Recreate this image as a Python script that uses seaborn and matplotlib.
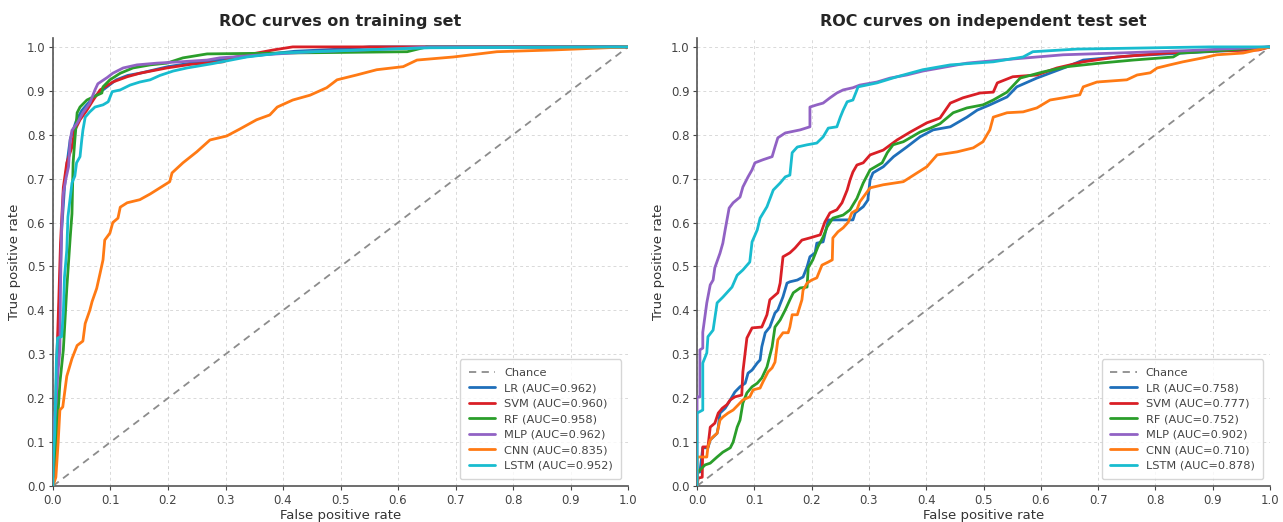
import numpy as np
import pandas as pd
import matplotlib
matplotlib.use("Agg")
import matplotlib.pyplot as plt
import seaborn as sns

# ---------------- data ----------------
models = ["LR", "SVM", "RF", "MLP", "CNN", "LSTM"]
colors = ["#1f6fba", "#d91f26", "#2a9e2a", "#9162c4", "#ff7a14", "#18bccf"]
train_auc = [0.962, 0.960, 0.958, 0.962, 0.835, 0.952]
test_auc = [0.758, 0.777, 0.752, 0.902, 0.710, 0.878]
ticks = [0.0, 0.1, 0.2, 0.3, 0.4, 0.5, 0.6, 0.7, 0.8, 0.9, 1.0]

# training set
tr_lr_fpr = [0, 0, 0.005, 0.008, 0.012, 0.015, 0.02, 0.025, 0.03, 0.04, 0.05, 0.06, 0.075, 0.09, 0.11, 0.13, 0.151, 0.2, 0.25, 0.3, 0.35, 0.42, 0.5, 0.55, 1.0]
tr_lr_tpr = [0, 0.12, 0.15, 0.30, 0.45, 0.58, 0.68, 0.74, 0.79, 0.83, 0.855, 0.87, 0.89, 0.905, 0.925, 0.935, 0.94, 0.955, 0.965, 0.972, 0.98, 0.99, 0.995, 1.0, 1.0]
tr_svm_fpr = [0, 0, 0.004, 0.007, 0.01, 0.013, 0.016, 0.018, 0.024, 0.033, 0.038, 0.047, 0.059, 0.07, 0.082, 0.104, 0.129, 0.151, 0.198, 0.238, 0.296, 0.31, 0.383, 0.417, 1.0]
tr_svm_tpr = [0, 0.10, 0.15, 0.30, 0.42, 0.55, 0.63, 0.68, 0.736, 0.772, 0.81, 0.834, 0.856, 0.879, 0.902, 0.92, 0.932, 0.94, 0.952, 0.96, 0.966, 0.975, 0.993, 1.0, 1.0]
tr_rf_fpr = [0, 0.003, 0.008, 0.012, 0.018, 0.024, 0.03, 0.033, 0.035, 0.038, 0.042, 0.047, 0.059, 0.07, 0.085, 0.087, 0.099, 0.117, 0.139, 0.169, 0.198, 0.226, 0.268, 0.4, 0.616, 0.65, 1.0]
tr_rf_tpr = [0, 0.05, 0.15, 0.235, 0.31, 0.45, 0.567, 0.62, 0.736, 0.788, 0.85, 0.863, 0.879, 0.886, 0.895, 0.909, 0.925, 0.94, 0.952, 0.959, 0.963, 0.975, 0.984, 0.986, 0.989, 1.0, 1.0]
tr_mlp_fpr = [0, 0, 0.004, 0.008, 0.012, 0.013, 0.015, 0.018, 0.022, 0.027, 0.03, 0.033, 0.042, 0.052, 0.064, 0.073, 0.078, 0.094, 0.104, 0.122, 0.146, 0.181, 0.221, 0.268, 0.29, 0.365, 0.452, 0.6, 0.656, 1.0]
tr_mlp_tpr = [0, 0.12, 0.17, 0.25, 0.31, 0.45, 0.59, 0.667, 0.697, 0.727, 0.788, 0.81, 0.826, 0.85, 0.872, 0.902, 0.916, 0.93, 0.94, 0.952, 0.959, 0.963, 0.966, 0.97, 0.975, 0.982, 0.989, 0.996, 1.0, 1.0]
tr_cnn_fpr = [0, 0.005, 0.009, 0.012, 0.017, 0.024, 0.033, 0.042, 0.052, 0.056, 0.064, 0.068, 0.076, 0.082, 0.087, 0.09, 0.099, 0.104, 0.113, 0.117, 0.129, 0.151, 0.169, 0.186, 0.203, 0.207, 0.226, 0.25, 0.273, 0.302, 0.325, 0.354, 0.377, 0.39, 0.417, 0.447, 0.476, 0.494, 0.528, 0.563, 0.609, 0.633, 0.696, 0.772, 0.87, 1.0]
tr_cnn_tpr = [0, 0.02, 0.10, 0.173, 0.18, 0.25, 0.29, 0.32, 0.33, 0.37, 0.40, 0.42, 0.45, 0.485, 0.515, 0.56, 0.576, 0.60, 0.61, 0.635, 0.645, 0.652, 0.665, 0.679, 0.693, 0.713, 0.736, 0.761, 0.788, 0.797, 0.813, 0.834, 0.845, 0.863, 0.879, 0.89, 0.907, 0.925, 0.936, 0.948, 0.955, 0.97, 0.977, 0.989, 0.993, 1.0]
tr_lstm_fpr = [0, 0, 0.003, 0.006, 0.008, 0.015, 0.018, 0.02, 0.024, 0.026, 0.033, 0.038, 0.041, 0.047, 0.05, 0.052, 0.056, 0.064, 0.073, 0.087, 0.096, 0.103, 0.117, 0.134, 0.151, 0.169, 0.186, 0.209, 0.233, 0.278, 0.337, 0.395, 0.452, 0.539, 0.656, 1.0]
tr_lstm_tpr = [0, 0.05, 0.12, 0.29, 0.337, 0.34, 0.394, 0.476, 0.537, 0.613, 0.69, 0.706, 0.736, 0.75, 0.788, 0.81, 0.84, 0.852, 0.863, 0.868, 0.875, 0.898, 0.902, 0.913, 0.92, 0.925, 0.935, 0.945, 0.952, 0.962, 0.977, 0.986, 0.989, 0.993, 0.998, 1.0]

# independent test set
te_lr_fpr = [0, 0, 0.005, 0.01, 0.019, 0.023, 0.035, 0.037, 0.04, 0.049, 0.058, 0.066, 0.075, 0.084, 0.089, 0.096, 0.105, 0.11, 0.113, 0.119, 0.127, 0.136, 0.141, 0.15, 0.157, 0.162, 0.175, 0.185, 0.192, 0.197, 0.206, 0.209, 0.22, 0.229, 0.272, 0.276, 0.29, 0.298, 0.302, 0.307, 0.325, 0.343, 0.366, 0.389, 0.412, 0.442, 0.471, 0.489, 0.511, 0.541, 0.558, 0.593, 0.646, 0.674, 0.761, 0.848, 0.95, 1.0]
te_lr_tpr = [0, 0.03, 0.032, 0.087, 0.087, 0.105, 0.12, 0.134, 0.166, 0.177, 0.196, 0.214, 0.226, 0.234, 0.257, 0.264, 0.28, 0.287, 0.317, 0.349, 0.362, 0.394, 0.401, 0.431, 0.462, 0.465, 0.469, 0.476, 0.499, 0.522, 0.531, 0.553, 0.556, 0.606, 0.606, 0.622, 0.636, 0.651, 0.697, 0.713, 0.727, 0.75, 0.772, 0.795, 0.811, 0.818, 0.84, 0.856, 0.868, 0.886, 0.909, 0.929, 0.955, 0.97, 0.98, 0.986, 0.993, 1.0]
te_svm_fpr = [0, 0.002, 0.009, 0.01, 0.019, 0.023, 0.031, 0.037, 0.044, 0.052, 0.058, 0.066, 0.078, 0.08, 0.087, 0.096, 0.113, 0.122, 0.127, 0.141, 0.145, 0.15, 0.162, 0.171, 0.183, 0.197, 0.215, 0.223, 0.232, 0.244, 0.253, 0.262, 0.267, 0.272, 0.279, 0.29, 0.302, 0.325, 0.349, 0.372, 0.401, 0.424, 0.442, 0.464, 0.494, 0.517, 0.524, 0.551, 0.593, 0.628, 0.674, 0.733, 0.82, 0.907, 0.98, 1.0]
te_svm_tpr = [0, 0.018, 0.02, 0.089, 0.089, 0.134, 0.143, 0.166, 0.177, 0.185, 0.196, 0.203, 0.207, 0.26, 0.337, 0.36, 0.362, 0.39, 0.424, 0.44, 0.462, 0.522, 0.531, 0.542, 0.56, 0.565, 0.572, 0.601, 0.622, 0.629, 0.645, 0.674, 0.697, 0.715, 0.731, 0.736, 0.754, 0.765, 0.788, 0.806, 0.827, 0.838, 0.872, 0.884, 0.895, 0.897, 0.918, 0.932, 0.936, 0.952, 0.966, 0.977, 0.986, 0.991, 0.993, 1.0]
te_rf_fpr = [0, 0, 0.014, 0.023, 0.035, 0.045, 0.058, 0.063, 0.07, 0.075, 0.08, 0.087, 0.096, 0.105, 0.113, 0.122, 0.131, 0.136, 0.145, 0.154, 0.162, 0.168, 0.18, 0.192, 0.194, 0.202, 0.211, 0.22, 0.227, 0.237, 0.255, 0.267, 0.272, 0.279, 0.29, 0.302, 0.323, 0.332, 0.342, 0.36, 0.372, 0.389, 0.407, 0.424, 0.447, 0.471, 0.499, 0.517, 0.541, 0.564, 0.604, 0.646, 0.703, 0.761, 0.831, 0.843, 0.907, 1.0]
te_rf_tpr = [0, 0.03, 0.048, 0.052, 0.066, 0.077, 0.087, 0.10, 0.134, 0.15, 0.189, 0.212, 0.226, 0.234, 0.246, 0.271, 0.317, 0.362, 0.378, 0.401, 0.424, 0.44, 0.451, 0.453, 0.497, 0.515, 0.545, 0.567, 0.59, 0.61, 0.617, 0.629, 0.64, 0.655, 0.69, 0.72, 0.736, 0.759, 0.777, 0.784, 0.793, 0.806, 0.815, 0.825, 0.85, 0.861, 0.868, 0.879, 0.897, 0.929, 0.943, 0.955, 0.963, 0.97, 0.977, 0.986, 0.991, 1.0]
te_mlp_fpr = [0, 0, 0.005, 0.005, 0.01, 0.01, 0.017, 0.023, 0.028, 0.031, 0.04, 0.045, 0.049, 0.056, 0.063, 0.075, 0.08, 0.089, 0.096, 0.101, 0.115, 0.131, 0.136, 0.141, 0.154, 0.18, 0.197, 0.197, 0.209, 0.22, 0.232, 0.244, 0.255, 0.272, 0.284, 0.314, 0.337, 0.366, 0.394, 0.424, 0.471, 0.529, 0.639, 0.733, 0.848, 1.0]
te_mlp_tpr = [0, 0.203, 0.203, 0.31, 0.314, 0.35, 0.417, 0.458, 0.469, 0.497, 0.53, 0.553, 0.583, 0.633, 0.645, 0.658, 0.681, 0.704, 0.72, 0.736, 0.743, 0.75, 0.772, 0.793, 0.804, 0.811, 0.818, 0.863, 0.868, 0.872, 0.884, 0.895, 0.902, 0.907, 0.913, 0.92, 0.929, 0.936, 0.945, 0.952, 0.963, 0.97, 0.982, 0.986, 0.991, 1.0]
te_cnn_fpr = [0, 0, 0.017, 0.019, 0.023, 0.028, 0.035, 0.04, 0.045, 0.054, 0.063, 0.072, 0.08, 0.092, 0.098, 0.11, 0.115, 0.124, 0.131, 0.136, 0.141, 0.15, 0.159, 0.162, 0.166, 0.175, 0.183, 0.185, 0.192, 0.2, 0.209, 0.218, 0.229, 0.236, 0.237, 0.246, 0.255, 0.264, 0.27, 0.279, 0.284, 0.302, 0.325, 0.36, 0.384, 0.401, 0.419, 0.454, 0.482, 0.499, 0.511, 0.517, 0.541, 0.569, 0.593, 0.616, 0.639, 0.668, 0.674, 0.698, 0.75, 0.768, 0.791, 0.803, 0.825, 0.848, 0.883, 0.907, 0.953, 1.0]
te_cnn_tpr = [0, 0.066, 0.066, 0.089, 0.105, 0.112, 0.12, 0.15, 0.157, 0.166, 0.173, 0.185, 0.196, 0.203, 0.219, 0.223, 0.237, 0.26, 0.269, 0.282, 0.333, 0.349, 0.349, 0.362, 0.39, 0.39, 0.424, 0.446, 0.462, 0.469, 0.474, 0.503, 0.51, 0.515, 0.565, 0.579, 0.588, 0.601, 0.622, 0.629, 0.647, 0.679, 0.686, 0.693, 0.713, 0.727, 0.754, 0.761, 0.77, 0.784, 0.811, 0.84, 0.85, 0.852, 0.861, 0.879, 0.884, 0.891, 0.909, 0.92, 0.925, 0.936, 0.941, 0.952, 0.959, 0.966, 0.975, 0.982, 0.986, 1.0]
te_lstm_fpr = [0, 0, 0.01, 0.01, 0.017, 0.019, 0.028, 0.035, 0.045, 0.061, 0.07, 0.08, 0.092, 0.096, 0.105, 0.11, 0.122, 0.133, 0.145, 0.154, 0.162, 0.166, 0.175, 0.192, 0.209, 0.22, 0.229, 0.244, 0.25, 0.255, 0.262, 0.272, 0.279, 0.281, 0.314, 0.349, 0.394, 0.442, 0.517, 0.569, 0.586, 0.663, 0.895, 1.0]
te_lstm_tpr = [0, 0.166, 0.173, 0.28, 0.303, 0.34, 0.355, 0.417, 0.43, 0.453, 0.48, 0.492, 0.51, 0.556, 0.583, 0.61, 0.636, 0.674, 0.69, 0.704, 0.708, 0.759, 0.772, 0.777, 0.781, 0.795, 0.815, 0.818, 0.84, 0.856, 0.875, 0.879, 0.902, 0.909, 0.918, 0.932, 0.948, 0.959, 0.966, 0.977, 0.989, 0.995, 1.0, 1.0]

train_fpr = [tr_lr_fpr, tr_svm_fpr, tr_rf_fpr, tr_mlp_fpr, tr_cnn_fpr, tr_lstm_fpr]
train_tpr = [tr_lr_tpr, tr_svm_tpr, tr_rf_tpr, tr_mlp_tpr, tr_cnn_tpr, tr_lstm_tpr]
test_fpr = [te_lr_fpr, te_svm_fpr, te_rf_fpr, te_mlp_fpr, te_cnn_fpr, te_lstm_fpr]
test_tpr = [te_lr_tpr, te_svm_tpr, te_rf_tpr, te_mlp_tpr, te_cnn_tpr, te_lstm_tpr]

# ---------------- plotting ----------------
sns.set_style("ticks")
plt.rcParams["font.family"] = ["DejaVu Sans"]

fig = plt.figure(figsize=(12.83, 5.22), dpi=100)
ax1 = fig.add_axes([0.0413, 0.069, 0.4482, 0.858])
ax2 = fig.add_axes([0.5433, 0.069, 0.4466, 0.858])


def draw(ax, fprs, tprs, aucs, title):
    ax.plot([0, 1], [0, 1], linestyle=(0, (4, 3)), color="#8c8c8c", lw=1.3, label="Chance", zorder=2)
    for name, col, f, t, a in zip(models, colors, fprs, tprs, aucs):
        df = pd.DataFrame({"fpr": f, "tpr": t})
        sns.lineplot(data=df, x="fpr", y="tpr", sort=False, estimator=None, ax=ax,
                     color=col, lw=2.0, label=f"{name} (AUC={a:.3f})", zorder=3)
    ax.set_xlim(0, 1)
    ax.set_ylim(0, 1.02)
    ax.set_xticks(ticks)
    ax.set_yticks(ticks)
    ax.set_xticklabels([f"{v:.1f}" for v in ticks])
    ax.set_yticklabels([f"{v:.1f}" for v in ticks])
    ax.grid(True, linestyle=(0, (3, 3)), color="#d9d9d9", lw=0.7)
    ax.set_axisbelow(True)
    sns.despine(ax=ax)
    for s in ["left", "bottom"]:
        ax.spines[s].set_color("#555555")
        ax.spines[s].set_linewidth(1.2)
    ax.tick_params(axis="both", labelsize=8.5, colors="#444444", length=3, width=0.8, pad=2.5)
    ax.set_xlabel("False positive rate", fontsize=9.5, color="#333333", labelpad=2)
    ax.set_ylabel("True positive rate", fontsize=9.5, color="#333333", labelpad=4)
    ax.set_title(title, fontsize=11.5, fontweight="bold", pad=9)
    leg = ax.legend(loc="lower right", fontsize=8.2, frameon=True, borderpad=0.75,
                    handlelength=2.3, labelspacing=0.48, borderaxespad=0.6)
    leg.get_frame().set_edgecolor("#cccccc")
    for txt in leg.get_texts():
        txt.set_color("#444444")


draw(ax1, train_fpr, train_tpr, train_auc, "ROC curves on training set")
draw(ax2, test_fpr, test_tpr, test_auc, "ROC curves on independent test set")

fig.savefig("out.png", dpi=100)
